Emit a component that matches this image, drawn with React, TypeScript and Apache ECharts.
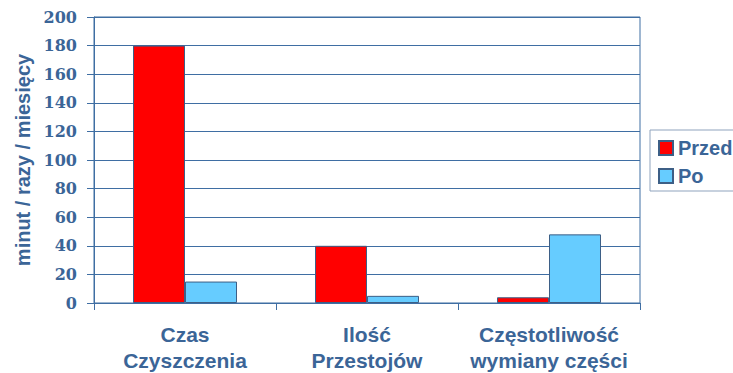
import React, { useEffect, useRef } from "react";
import * as echarts from "echarts";

const categories = ["Czas\nCzyszczenia", "Ilość\nPrzestojów", "Częstotliwość\nwymiany części"];
const seriesNames = ["Przed", "Po"];
const przedValues = [180, 40, 4];
const poValues = [15, 5, 48];
const yTicks = { min: 0, max: 200, interval: 20 };

const BLUE_TEXT = "#3b6597";
const LINE = "#3f6ea3";

export default function App() {
  const ref = useRef<HTMLDivElement>(null);
  useEffect(() => {
    if (!ref.current) return;
    const chart = echarts.init(ref.current, null, { renderer: "svg" });
    chart.setOption({
      animation: false,
      backgroundColor: "#ffffff",
      grid: {
        left: 94,
        right: 93,
        top: 17,
        bottom: 70,
        show: true,
        borderColor: LINE,
        borderWidth: 1,
      },
      legend: {
        orient: "vertical",
        left: 650,
        top: 130,
        padding: [8, 10, 5, 8],
        itemGap: 8,
        itemWidth: 14,
        itemHeight: 14,
        icon: "rect",
        borderColor: "#8fa3bd",
        borderWidth: 1,
        data: seriesNames,
        textStyle: {
          color: BLUE_TEXT,
          fontFamily: "Liberation Sans, Arial, sans-serif",
          fontWeight: "bold",
          fontSize: 20,
          padding: [0, 0, 0, 0],
        },
      },
      xAxis: {
        type: "category",
        data: categories,
        boundaryGap: true,
        axisLine: { show: true, lineStyle: { color: LINE, width: 1 } },
        axisTick: { show: true, length: 7, interval: 0, lineStyle: { color: LINE } },
        axisLabel: {
          interval: 0,
          margin: 18,
          color: BLUE_TEXT,
          fontFamily: "Liberation Sans, Arial, sans-serif",
          fontWeight: "bold",
          fontSize: 21,
          lineHeight: 26,
        },
      },
      yAxis: {
        type: "value",
        min: yTicks.min,
        max: yTicks.max,
        interval: yTicks.interval,
        name: "minut / razy / miesięcy",
        nameLocation: "middle",
        nameRotate: 90,
        nameGap: 60,
        nameTextStyle: {
          color: BLUE_TEXT,
          fontFamily: "Liberation Sans, Arial, sans-serif",
          fontWeight: "bold",
          fontSize: 20,
        },
        axisLine: { show: true, lineStyle: { color: LINE, width: 1 } },
        axisTick: { show: true, length: 7, lineStyle: { color: LINE } },
        splitLine: { show: true, lineStyle: { color: LINE, width: 1 } },
        axisLabel: {
          margin: 17,
          color: BLUE_TEXT,
          fontFamily: "DejaVu Serif, serif",
          fontWeight: "bold",
          fontSize: 16,
        },
      },
      series: [
        {
          name: seriesNames[0],
          type: "bar",
          data: przedValues,
          barWidth: 52,
          barGap: "0%",
          itemStyle: { color: "#ff0000", borderColor: "#3d5f86", borderWidth: 1 },
        },
        {
          name: seriesNames[1],
          type: "bar",
          data: poValues,
          barWidth: 52,
          barGap: "0%",
          itemStyle: { color: "#66ccff", borderColor: "#3d5f86", borderWidth: 1 },
        },
      ],
    });
    return () => chart.dispose();
  }, []);
  return <div ref={ref} style={{ width: 733, height: 373, position: "absolute", left: 0, top: 0 }} />;
}
